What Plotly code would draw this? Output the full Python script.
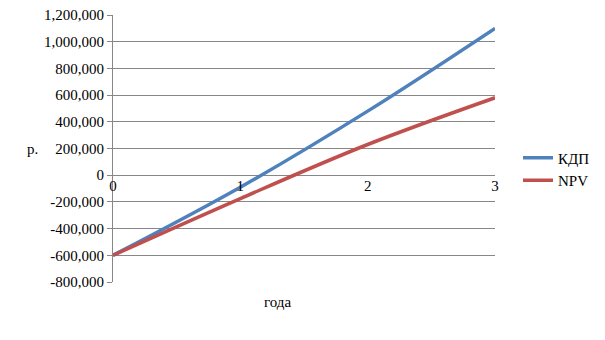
import plotly.graph_objects as go

years = [0, 1, 2, 3]
kdp = [-600000, -90000, 480000, 1100000]
npv = [-600000, -175000, 230000, 580000]
y_ticks = [-800000, -600000, -400000, -200000, 0, 200000, 400000, 600000, 800000, 1000000, 1200000]
y_labels = [f"{v:,}" for v in y_ticks]
x_ticks = [0, 1, 2, 3]

FONT = "Liberation Serif"
GRID = "#878787"

fig = go.Figure()
fig.add_trace(go.Scatter(x=years, y=kdp, mode="lines", name="КДП",
                         line=dict(color="#4F81BD", width=3.5, shape="spline")))
fig.add_trace(go.Scatter(x=years, y=npv, mode="lines", name="NPV",
                         line=dict(color="#C0504D", width=3.5, shape="spline")))

ymin, ymax = -800000, 1200000
zero_frac = (0 - ymin) / (ymax - ymin)

L, R, T, B = 113, 110, 15, 58
pw = 605 - L - R
ph = 340 - T - B

def px_x(p):
    return (p - L) / pw

def px_y(p):
    return 1 - (p - T) / ph

fig.update_layout(
    width=605, height=340,
    margin=dict(l=L, r=R, t=T, b=B, autoexpand=False),
    paper_bgcolor="white", plot_bgcolor="white",
    font=dict(family=FONT, size=15, color="black"),
    showlegend=True,
    legend=dict(x=px_x(518), xanchor="left", y=px_y(169), yanchor="middle",
                font=dict(family=FONT, size=15, color="black"),
                tracegroupgap=0, itemwidth=30, bgcolor="rgba(0,0,0,0)"),
    xaxis=dict(range=[0, 3], tickvals=x_ticks, showgrid=False, zeroline=False,
               showline=False, ticks="", anchor="free", position=zero_frac,
               tickfont=dict(family=FONT, size=15, color="black")),
    yaxis=dict(range=[ymin, ymax], tickvals=y_ticks, ticktext=y_labels,
               showgrid=True, gridcolor=GRID, gridwidth=1,
               zeroline=True, zerolinecolor=GRID, zerolinewidth=1,
               showline=True, linecolor=GRID, linewidth=1,
               ticks="outside", ticklen=5, tickcolor=GRID,
               tickfont=dict(family=FONT, size=15, color="black")),
    annotations=[
        dict(text="года", x=px_x(277), y=px_y(312), xref="paper", yref="paper", showarrow=False,
             font=dict(family=FONT, size=15, color="black")),
        dict(text="р.", x=px_x(25), y=px_y(149), xref="paper", yref="paper", showarrow=False,
             font=dict(family=FONT, size=15, color="black")),
    ],
)

fig.write_html("out.html")
